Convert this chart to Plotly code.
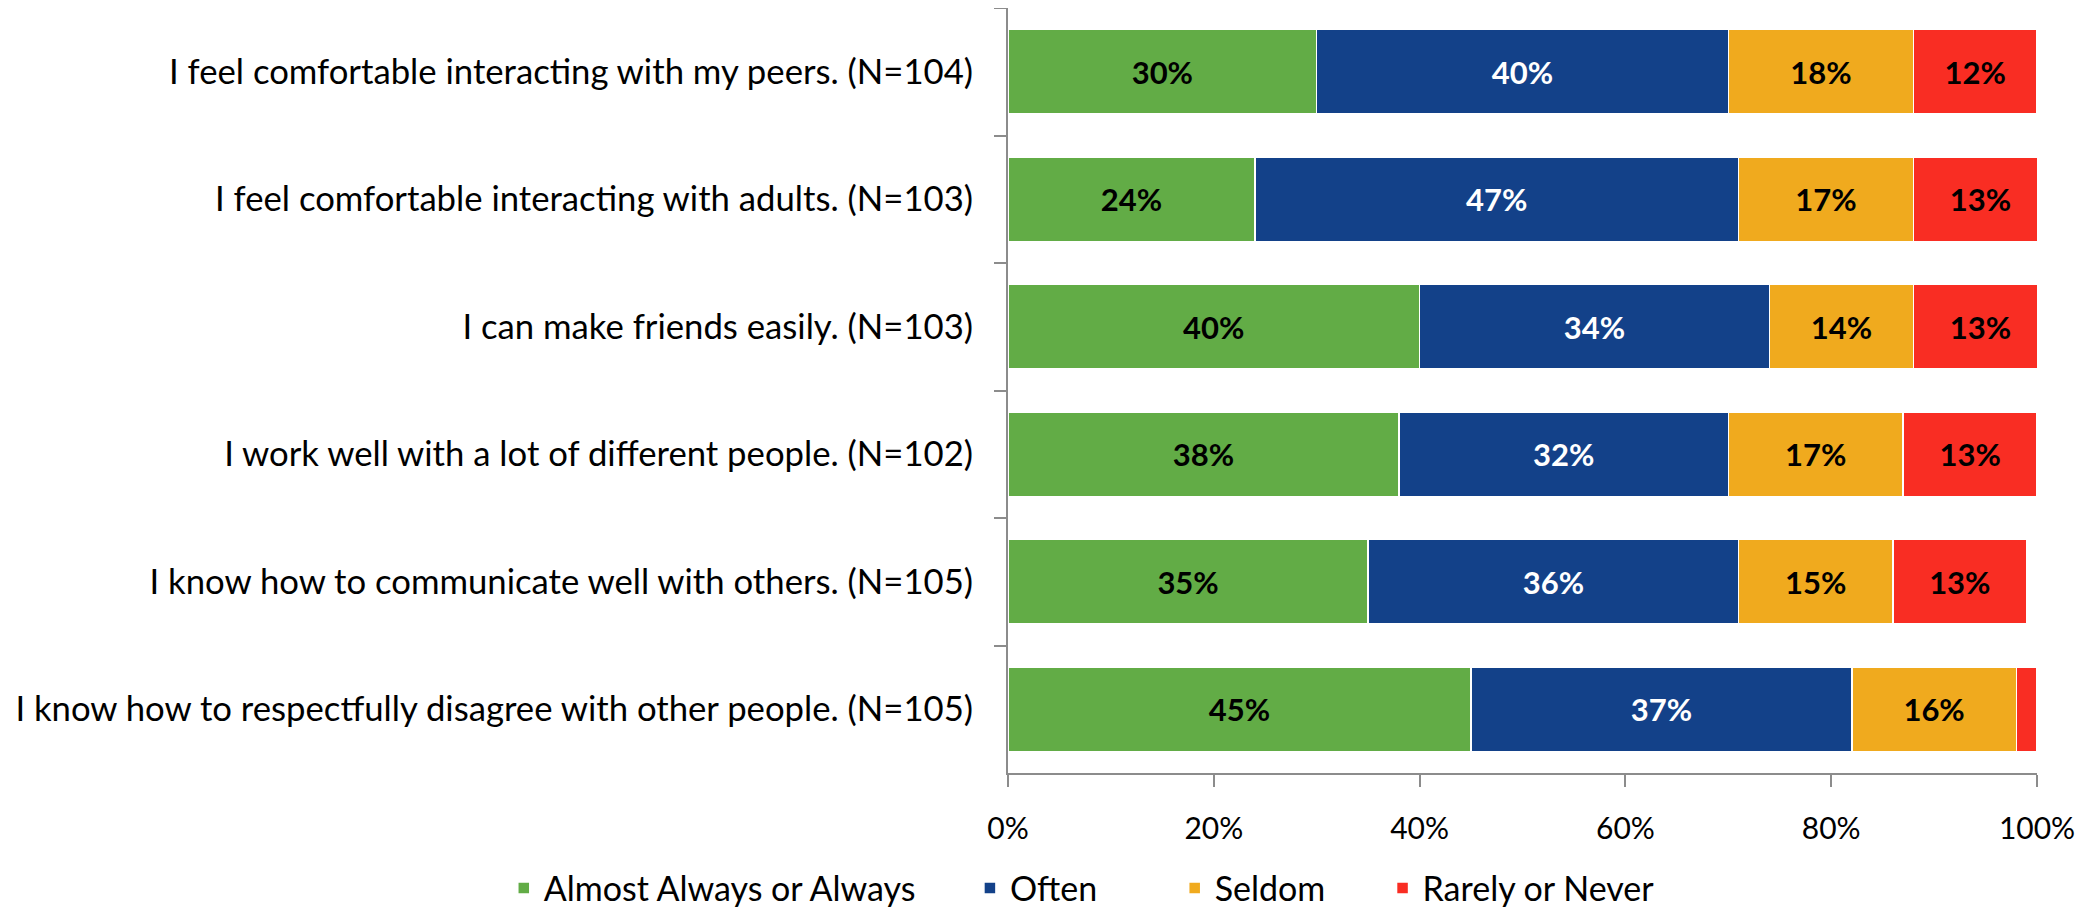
import plotly.graph_objects as go

# --- dados ---
questions = [
    "I feel comfortable interacting with my peers. (N=104)",
    "I feel comfortable interacting with adults. (N=103)",
    "I can make friends easily. (N=103)",
    "I work well with a lot of different people. (N=102)",
    "I know how to communicate well with others. (N=105)",
    "I know how to respectfully disagree with other people. (N=105)",
]
almost_always = [30, 24, 40, 38, 35, 45]
often = [40, 47, 34, 32, 36, 37]
seldom = [18, 17, 14, 17, 15, 16]
rarely = [12, 13, 13, 13, 13, 2]

series = [
    ("Almost Always or Always", almost_always, "#62AC46", "black"),
    ("Often", often, "#134189", "white"),
    ("Seldom", seldom, "#F0AA1E", "black"),
    ("Rarely or Never", rarely, "#F92D23", "black"),
]
# posição de cada item da legenda (fração do eixo x)
legend_x = [-0.49, -0.037, 0.162, 0.364]

FONT = "Lato"

fig = go.Figure()
for i, (name, vals, color, txtcolor) in enumerate(series):
    # rótulos pequenos demais ficam de fora
    labels = [f"{v}%" if v >= 5 else "" for v in vals]
    lg = "legend" if i == 0 else f"legend{i + 1}"
    fig.add_trace(go.Bar(
        y=questions, x=vals, name=name, orientation="h",
        marker=dict(color=color, line=dict(color="white", width=1.5)),
        text=labels, textposition="inside", insidetextanchor="middle",
        textangle=0,
        textfont=dict(family=FONT, size=31, color=txtcolor, weight="bold"),
        hoverinfo="x+name", legend=lg,
    ))

legend_style = dict(
    orientation="h", xanchor="left", y=-0.151, yanchor="middle",
    font=dict(size=34), itemwidth=30, bgcolor="rgba(0,0,0,0)",
)
layout_legends = {}
for i, lx in enumerate(legend_x):
    key = "legend" if i == 0 else f"legend{i + 1}"
    layout_legends[key] = dict(legend_style, x=lx)

fig.update_layout(
    barmode="stack", bargap=0.34,
    width=2097, height=910,
    margin=dict(l=1000, r=68, t=0, b=142),
    paper_bgcolor="white", plot_bgcolor="white",
    font=dict(family=FONT, size=30, color="black"),
    uniformtext=dict(mode="show", minsize=10),
    showlegend=True,
    **layout_legends,
)
fig.update_xaxes(
    range=[0, 100], tickvals=[0, 20, 40, 60, 80, 100],
    ticktext=["0%", "20%", "40%", "60%", "80%", "100%"],
    showgrid=False, zeroline=False,
    showline=True, linecolor="#8c8c8c", linewidth=2,
    ticks="outside", ticklen=12, tickcolor="#8c8c8c", tickwidth=2,
    ticklabelstandoff=16,
)
fig.update_yaxes(
    autorange="reversed", showgrid=False,
    showline=True, linecolor="#8c8c8c", linewidth=2,
    ticks="outside", ticklen=12, tickcolor="#8c8c8c", tickwidth=2,
    tickson="boundaries", ticklabelstandoff=26,
    tickfont=dict(size=34.7),
)

fig.write_html("out.html")
